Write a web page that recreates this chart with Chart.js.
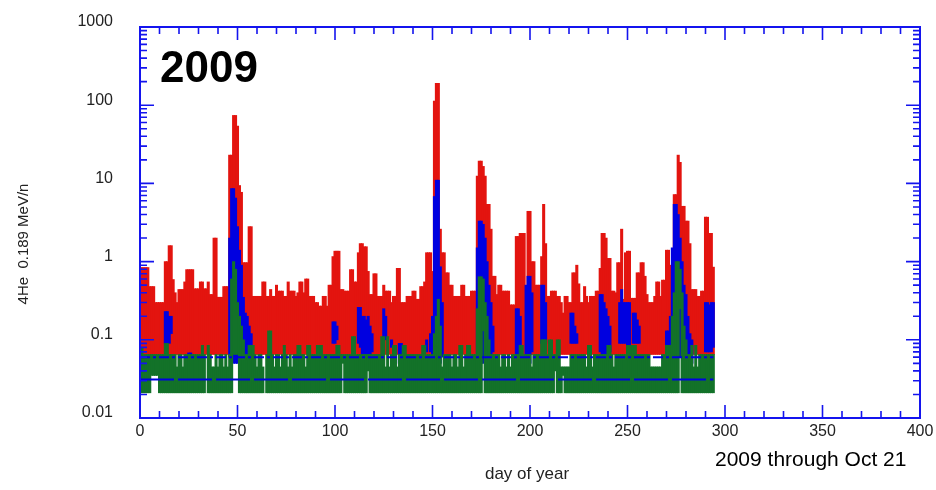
<!DOCTYPE html>
<html>
<head>
<meta charset="utf-8">
<script src="https://cdn.jsdelivr.net/npm/chart.js@4.4.0/dist/chart.umd.min.js"></script>
<style>
  html, body { margin: 0; padding: 0; background: #fff; }
</style>
</head>
<body>
<canvas id="grafico" width="936" height="490"></canvas>
<script>
// Daily maxima of the upper (red) channel, day 0 .. 294
var redMax = [
  0.84,0.84,0.84,0.84,0.84,0.48,0.48,0.48,0.3,0.3,
  0.3,0.3,0.3,1.0,1.0,1.6,1.6,0.59,0.4,0.3,
  0.44,0.44,0.44,0.55,0.79,0.79,0.79,0.79,0.45,0.45,
  0.45,0.55,0.55,0.45,0.45,0.55,0.38,0.38,2.0,2.0,
  0.35,0.35,0.35,0.48,0.48,0.48,23,23,74,74,
  54,9.4,7.7,0.97,0.97,0.97,2.8,2.8,0.36,0.36,
  0.36,0.36,0.36,0.55,0.55,0.36,0.36,0.44,0.36,0.36,
  0.5,0.42,0.42,0.42,0.36,0.36,0.55,0.42,0.42,0.42,
  0.36,0.4,0.55,0.55,0.4,0.6,0.6,0.36,0.36,0.36,
  0.3,0.3,0.27,0.27,0.36,0.36,0.27,0.5,0.5,1.16,
  1.36,1.36,1.36,0.44,0.44,0.42,0.42,0.42,0.79,0.79,
  0.55,0.55,1.3,1.7,1.7,1.55,1.55,0.75,0.38,0.38,
  0.7,0.7,0.36,0.36,0.36,0.5,0.42,0.42,0.42,0.3,
  0.36,0.36,0.82,0.82,0.3,0.3,0.3,0.36,0.36,0.36,
  0.42,0.42,0.33,0.33,0.48,0.48,0.55,1.3,1.3,1.3,
  0.75,113,190,190,2.6,1.3,1.3,0.72,0.72,0.5,
  0.5,0.36,0.36,0.36,0.36,0.5,0.5,0.36,0.36,0.36,
  0.42,0.42,0.42,12.4,19.3,19.3,16.5,12.4,5.4,5.4,
  2.6,0.65,0.65,0.38,0.5,0.5,0.42,0.42,0.42,0.42,
  0.28,0.28,0.28,2.1,2.1,2.3,2.3,2.3,0.44,4.4,
  4.4,1.0,1.0,0.5,0.5,0.5,1.16,5.4,1.7,0.36,
  0.36,0.42,0.42,0.42,0.36,0.36,0.3,0.22,0.36,0.36,
  0.3,0.3,0.72,0.72,0.9,0.52,0.3,0.3,0.48,0.36,
  0.3,0.36,0.36,0.36,0.42,0.42,0.82,2.3,2.3,2.0,
  1.1,1.1,0.42,0.42,0.4,0.97,0.97,2.6,0.33,1.3,
  1.36,1.36,0.34,0.34,0.34,0.72,0.72,0.97,0.97,0.65,
  0.38,0.3,0.3,0.3,0.36,0.55,0.55,0.36,0.58,0.58,
  1.4,1.4,0.9,0.9,7.2,7.2,23,18.6,5.1,5.1,
  3.3,3.3,1.7,0.44,0.44,0.44,0.36,0.36,0.42,0.42,
  3.7,3.7,2.3,2.3,0.85
];
var redFloor = 0.065;

// Lower (green) channel, low and high per day; null = no data that day
var greenLo = [
  0.021,0.021,0.021,0.021,0.021,0.021,0.035,0.035,0.035,0.035,
  0.021,0.021,0.021,0.021,0.021,0.021,0.021,0.021,0.021,0.021,
  0.021,0.021,0.021,0.021,0.021,0.021,0.021,0.021,0.021,0.021,
  0.021,0.021,0.021,0.021,null,0.021,0.021,0.021,0.021,0.021,
  0.021,0.021,0.021,0.021,0.021,0.021,0.021,0.021,0.065,0.065,
  0.065,0.021,0.021,0.021,0.021,0.021,0.021,0.021,0.021,0.021,
  0.021,0.021,0.021,0.021,null,0.021,0.021,0.021,0.021,0.021,
  0.021,0.021,0.021,0.021,0.021,0.021,0.021,0.021,0.021,0.021,
  0.021,0.021,0.021,0.021,0.021,0.021,0.021,0.021,0.021,0.021,
  0.021,0.021,0.021,0.021,0.021,0.021,0.021,0.021,0.021,0.021,
  0.021,0.021,0.021,0.021,0.05,0.021,0.021,0.021,0.021,0.021,
  0.021,0.021,0.021,0.021,0.021,0.021,0.021,0.04,0.021,0.021,
  0.021,0.021,0.021,0.021,0.021,0.021,0.021,0.021,0.021,0.021,
  0.021,0.021,0.021,0.021,0.021,0.021,0.021,0.021,0.021,0.021,
  0.021,0.021,0.021,0.021,0.021,0.021,0.021,0.021,0.021,0.021,
  0.021,0.021,0.021,0.021,0.021,0.021,0.021,0.021,0.021,0.021,
  0.021,0.021,0.021,0.021,0.021,0.021,0.021,0.021,0.021,0.021,
  0.021,0.021,0.021,0.021,0.021,0.021,0.13,0.021,0.021,0.021,
  0.021,0.021,0.021,0.021,0.021,0.021,0.021,0.021,0.021,0.021,
  0.021,0.021,0.021,0.021,0.021,0.021,0.021,0.021,0.021,0.021,
  0.021,0.021,0.021,0.021,0.021,0.021,0.021,0.021,0.021,0.021,
  0.021,0.021,0.021,0.04,0.021,0.021,0.021,0.035,0.021,0.021,
  0.021,0.021,0.021,0.021,0.021,0.021,0.021,0.021,0.021,0.021,
  0.021,0.021,0.021,0.021,0.021,0.021,0.021,0.021,0.021,0.021,
  0.021,0.021,0.021,0.021,0.021,0.021,0.021,0.021,0.021,0.021,
  0.021,0.021,0.021,0.021,0.021,0.021,0.021,0.021,0.021,0.021,
  0.021,0.021,0.021,0.021,0.021,0.021,0.021,0.021,0.021,0.021,
  0.021,0.021,0.021,0.021,0.021,0.021,0.021,0.25,0.021,0.021,
  0.021,0.021,0.021,0.021,0.021,0.021,0.021,0.021,0.021,0.021,
  0.021,0.021,0.021,0.021,0.021
];
var greenHi = [
  0.08,0.08,0.065,0.065,0.065,0.065,0.065,0.065,0.065,0.065,
  0.065,0.065,0.065,0.09,0.09,0.065,0.065,0.065,0.065,0.045,
  0.065,0.065,0.045,0.065,0.065,0.065,0.065,0.065,0.065,0.065,
  0.065,0.065,0.085,0.065,null,0.085,0.065,0.045,0.045,0.065,
  0.045,0.065,0.065,0.045,0.065,0.045,0.065,0.6,1.0,0.8,
  0.3,0.2,0.15,0.1,0.065,0.065,0.085,0.085,0.085,0.065,
  0.045,0.065,0.065,0.045,null,0.065,0.13,0.13,0.065,0.045,
  0.065,0.065,0.045,0.065,0.085,0.065,0.045,0.065,0.045,0.065,
  0.065,0.085,0.085,0.065,0.065,0.045,0.085,0.085,0.065,0.065,
  0.065,0.085,0.085,0.085,0.065,0.065,0.065,0.065,0.065,0.065,
  0.065,0.085,0.085,0.065,0.065,0.065,0.065,0.065,0.065,0.11,
  0.11,0.065,0.065,0.065,0.065,0.065,0.065,0.065,0.065,0.065,
  0.065,0.065,0.065,0.065,0.11,0.11,0.045,0.11,0.045,0.065,
  0.085,0.085,0.045,0.065,0.065,0.085,0.085,0.065,0.065,0.065,
  0.065,0.065,0.065,0.065,0.065,0.085,0.085,0.065,0.065,0.065,
  0.065,0.12,0.2,0.33,0.15,0.045,0.065,0.065,0.065,0.065,
  0.045,0.065,0.065,0.045,0.085,0.085,0.045,0.065,0.085,0.085,
  0.065,0.065,0.065,0.25,0.64,0.64,0.6,0.3,0.2,0.1,
  0.065,0.065,0.065,0.065,0.065,0.045,0.065,0.065,0.045,0.065,
  0.045,0.065,0.065,0.065,0.065,0.085,0.085,0.065,0.065,0.065,
  0.065,0.045,0.065,0.065,0.065,0.065,0.1,0.1,0.1,0.065,
  0.1,0.1,0.065,0.065,0.1,0.1,0.045,0.045,0.045,0.045,
  0.045,0.065,0.065,0.065,0.065,0.065,0.065,0.065,0.065,0.045,
  0.085,0.085,0.045,0.065,0.065,0.065,0.065,0.065,0.065,0.065,
  0.085,0.085,0.065,0.045,0.065,0.065,0.065,0.065,0.065,0.065,
  0.085,0.085,0.085,0.085,0.085,0.065,0.065,0.065,0.065,0.065,
  0.065,0.065,0.045,0.045,0.045,0.045,0.045,0.045,0.065,0.065,
  0.085,0.085,0.085,0.2,0.4,1.0,1.0,0.8,0.4,0.15,
  0.1,0.065,0.065,0.085,0.045,0.085,0.045,0.065,0.065,0.065,
  0.065,0.065,0.065,0.065,0.065
];

// Middle (blue) channel, only the days where it rises out of the background
var blueDays = [13,14,15,16,25,26,
  46,47,48,49,50,51,52,53,54,55,56,57,
  99,100,101,112,113,114,115,116,117,118,119,125,126,129,133,134,147,149,150,
  151,152,153,154,155,173,174,175,176,177,178,179,180,181,
  193,194,195,198,199,200,201,206,207,208,221,222,223,224,
  236,237,238,239,240,241,246,247,248,249,250,251,253,254,255,256,
  270,271,272,273,274,275,276,277,278,279,280,281,282,283,290,291,292,293,294];
var blueLo = [0.09,0.09,0.09,0.12,0.045,0.045,
  0.06,0.05,0.05,0.05,0.05,0.05,0.05,0.045,0.045,0.05,0.05,0.055,
  0.09,0.09,0.1,0.09,0.08,0.06,0.045,0.045,0.05,0.06,0.07,0.1,0.1,0.08,0.05,0.05,0.07,0.07,0.06,
  0.05,0.05,0.05,0.05,0.06,0.06,0.05,0.05,0.05,0.05,0.05,0.06,0.06,0.07,
  0.05,0.05,0.06,0.05,0.05,0.05,0.07,0.09,0.09,0.09,0.09,0.09,0.09,0.09,
  0.07,0.05,0.05,0.06,0.07,0.07,0.09,0.09,0.09,0.09,0.08,0.08,0.09,0.09,0.09,0.09,
  0.05,0.05,0.05,0.06,0.06,0.06,0.06,0.06,0.07,0.07,0.07,0.06,0.05,0.05,0.07,0.07,0.07,0.07,0.08];
var blueHi = [0.23,0.23,0.2,0.2,0.068,0.068,
  2.0,8.6,8.6,6.5,2.8,1.4,0.9,0.35,0.22,0.2,0.15,0.12,
  0.17,0.17,0.15,0.26,0.26,0.2,0.2,0.18,0.2,0.15,0.12,0.25,0.2,0.1,0.09,0.09,0.1,0.12,0.2,
  6.8,11,11,0.86,0.3,1.5,3.3,3.3,3.0,2.0,1.0,0.5,0.3,0.15,
  0.25,0.25,0.2,0.5,0.65,0.65,0.4,0.5,0.5,0.3,0.22,0.22,0.15,0.12,
  0.38,0.38,0.3,0.25,0.2,0.15,0.3,0.44,0.3,0.3,0.3,0.3,0.22,0.22,0.18,0.15,
  0.13,0.13,0.2,1.5,5.4,5.4,4.0,2.0,1.0,0.5,0.38,0.2,0.12,0.1,0.3,0.3,0.28,0.3,0.3];

// background levels of the blue channel
var bgLevels = [0.031, 0.06];

var yTickValues = [0.01, 0.1, 1, 10, 100, 1000];
var yTickLabels = ['0.01', '0.1', '1', '10', '100', '1000'];

var ROJO = '#e3140f';
var AZUL = '#0000e0';
var VERDE = '#137229';
var EJE = '#1414ee';
var FUENTE = '"Liberation Sans", Arial, sans-serif';

var lastDay = redMax.length - 1;

var redData = redMax.map(function (v, d) { return { x: d, y: [redFloor, v] }; });
var greenData = [];
greenHi.forEach(function (v, d) {
  if (v !== null) greenData.push({ x: d, y: [greenLo[d], v] });
});
var blueData = blueDays.map(function (d, i) { return { x: d, y: [blueLo[i], blueHi[i]] }; });

function barSet(data, color, order) {
  return {
    type: 'bar', data: data, backgroundColor: color, borderWidth: 0,
    barThickness: 2.4, grouped: false, order: order
  };
}
function levelLine(level, dash) {
  return {
    type: 'line',
    data: [{ x: 0, y: level }, { x: lastDay, y: level }],
    borderColor: AZUL, borderWidth: 2, borderDash: dash,
    pointRadius: 0, fill: false, order: 0
  };
}

// marco azul con marcas hacia dentro y los textos
var marco = {
  id: 'marco',
  afterDatasetsDraw: function (chart) {
    var ctx = chart.ctx, a = chart.chartArea;
    var x = chart.scales.x, y = chart.scales.y;
    ctx.save();
    ctx.strokeStyle = EJE;
    ctx.lineWidth = 2;
    ctx.strokeRect(a.left, a.top, a.right - a.left, a.bottom - a.top);
    ctx.lineWidth = 1.6;
    ctx.beginPath();
    for (var d = 10; d < 400; d += 10) {
      var px = x.getPixelForValue(d);
      var len = d % 50 === 0 ? 13 : 7;
      ctx.moveTo(px, a.bottom); ctx.lineTo(px, a.bottom - len);
      ctx.moveTo(px, a.top); ctx.lineTo(px, a.top + len);
    }
    for (var e = -2; e < 3; e++) {
      for (var m = 1; m < 10; m++) {
        if (e === -2 && m === 1) continue;
        var py = y.getPixelForValue(m * Math.pow(10, e));
        var l = m === 1 ? 14 : 7;
        ctx.moveTo(a.left, py); ctx.lineTo(a.left + l, py);
        ctx.moveTo(a.right, py); ctx.lineTo(a.right - l, py);
      }
    }
    ctx.stroke();

    ctx.fillStyle = '#000';
    ctx.font = 'bold 44px ' + FUENTE;
    ctx.textAlign = 'left';
    ctx.textBaseline = 'alphabetic';
    ctx.fillText('2009', 160, 82);

    ctx.font = '21px ' + FUENTE;
    ctx.fillText('2009 through Oct 21', 715, 466);

    ctx.fillStyle = '#222';
    ctx.font = '17px ' + FUENTE;
    ctx.textAlign = 'center';
    ctx.fillText('day of year', 527, 479);

    ctx.translate(28, 244);
    ctx.rotate(-Math.PI / 2);
    ctx.font = '15px ' + FUENTE;
    ctx.fillText('4He  0.189 MeV/n', 0, 0);
    ctx.restore();
  }
};

var ctx = document.getElementById('grafico').getContext('2d');
var myChart = new Chart(ctx, {
  type: 'bar',
  data: {
    datasets: [
      levelLine(bgLevels[0], [34, 4]),
      levelLine(bgLevels[1], [10, 3, 3, 3]),
      barSet(greenData, VERDE, 1),
      barSet(blueData, AZUL, 2),
      barSet(redData, ROJO, 3)
    ]
  },
  options: {
    responsive: false,
    animation: false,
    events: [],
    layout: { padding: { left: 0, right: 16, top: 27, bottom: 0 } },
    plugins: { legend: { display: false }, tooltip: { enabled: false } },
    scales: {
      x: {
        type: 'linear', min: 0, max: 400, offset: false,
        grid: { display: false, offset: false, drawTicks: false },
        border: { display: false },
        ticks: { stepSize: 50, padding: 4, color: '#222', font: { family: FUENTE, size: 16 } },
        afterFit: function (s) { s.height = 72; s.paddingLeft = 0; s.paddingRight = 0; }
      },
      y: {
        type: 'logarithmic', min: 0.01, max: 1000,
        grid: { display: false, drawTicks: false },
        border: { display: false },
        afterBuildTicks: function (s) {
          s.ticks = yTickValues.map(function (v) { return { value: v }; });
        },
        ticks: {
          autoSkip: false, padding: 27, labelOffset: -5, color: '#222',
          font: { family: FUENTE, size: 16 },
          callback: function (v) { return yTickLabels[yTickValues.indexOf(v)]; }
        },
        afterFit: function (s) { s.width = 140; s.paddingTop = 0; s.paddingBottom = 0; }
      }
    }
  },
  plugins: [marco]
});
</script>
</body>
</html>
